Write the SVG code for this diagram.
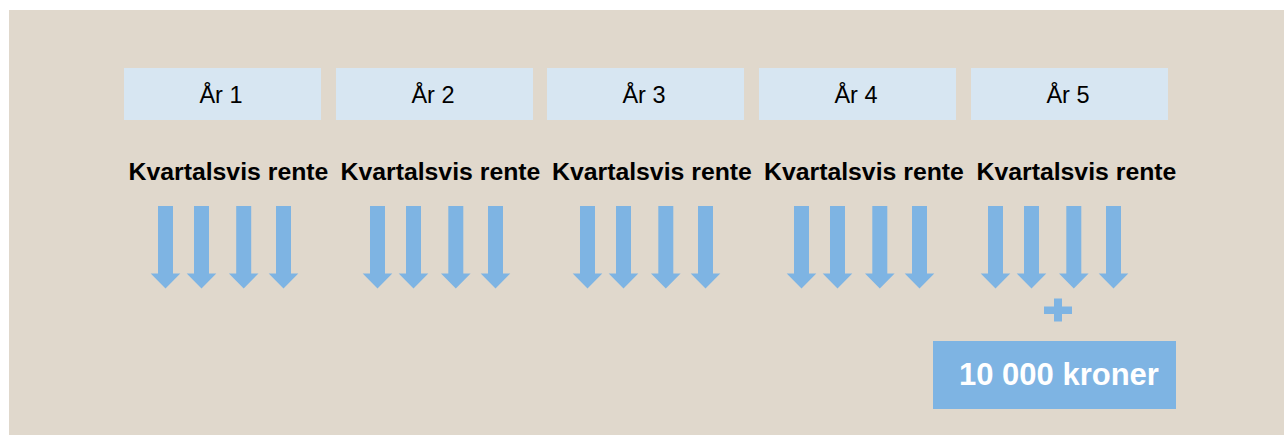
<svg xmlns="http://www.w3.org/2000/svg" xmlns:xlink="http://www.w3.org/1999/xlink" width="1284" height="435" viewBox="0 0 1284 435">
  <style>
    .bg { fill: #e0d8cc; }
    .year { fill: #d7e6f2; }
    .year-t { font-family: "Liberation Sans", Arial, sans-serif; font-size: 23.5px; fill: #000; text-anchor: middle; }
    .rate-t { font-family: "Liberation Sans", Arial, sans-serif; font-size: 24.8px; font-weight: bold; fill: #000; }
    .arrow { fill: #7eb4e3; }
    .sum { fill: #7eb4e3; }
    .sum-t { font-family: "Liberation Sans", Arial, sans-serif; font-size: 31px; font-weight: bold; fill: #fff; }
  </style>
  <defs>
    <path id="arr" class="arrow" d="M-7.5,206 H7.5 V273.5 H14.8 L0,288.5 L-14.8,273.5 H-7.5 Z"/>
  </defs>
  <rect class="bg" x="9" y="10" width="1275" height="425"/>

  <g id="year1"><rect class="year" x="124" y="68" width="197" height="52"/><text class="year-t" x="221" y="103">År 1</text></g>
  <g id="year2"><rect class="year" x="336" y="68" width="197" height="52"/><text class="year-t" x="433" y="103">År 2</text></g>
  <g id="year3"><rect class="year" x="547" y="68" width="197" height="52"/><text class="year-t" x="644" y="103">År 3</text></g>
  <g id="year4"><rect class="year" x="759" y="68" width="197" height="52"/><text class="year-t" x="856" y="103">År 4</text></g>
  <g id="year5"><rect class="year" x="971" y="68" width="197" height="52"/><text class="year-t" x="1068" y="103">År 5</text></g>

  <g id="rate1"><text class="rate-t" x="128.5" y="179.5">Kvartalsvis rente</text></g>
  <g id="rate2"><text class="rate-t" x="340.5" y="179.5">Kvartalsvis rente</text></g>
  <g id="rate3"><text class="rate-t" x="552" y="179.5">Kvartalsvis rente</text></g>
  <g id="rate4"><text class="rate-t" x="764" y="179.5">Kvartalsvis rente</text></g>
  <g id="rate5"><text class="rate-t" x="976.5" y="179.5">Kvartalsvis rente</text></g>

  <g id="connectors">
    <use xlink:href="#arr" href="#arr" x="165.5"/>
    <use xlink:href="#arr" href="#arr" x="201.5"/>
    <use xlink:href="#arr" href="#arr" x="243.7"/>
    <use xlink:href="#arr" href="#arr" x="283.5"/>
    <use xlink:href="#arr" href="#arr" x="377.5"/>
    <use xlink:href="#arr" href="#arr" x="413.5"/>
    <use xlink:href="#arr" href="#arr" x="455.8"/>
    <use xlink:href="#arr" href="#arr" x="495.5"/>
    <use xlink:href="#arr" href="#arr" x="587.5"/>
    <use xlink:href="#arr" href="#arr" x="623.5"/>
    <use xlink:href="#arr" href="#arr" x="665.8"/>
    <use xlink:href="#arr" href="#arr" x="705.5"/>
    <use xlink:href="#arr" href="#arr" x="801.5"/>
    <use xlink:href="#arr" href="#arr" x="837.5"/>
    <use xlink:href="#arr" href="#arr" x="879.8"/>
    <use xlink:href="#arr" href="#arr" x="919.5"/>
    <use xlink:href="#arr" href="#arr" x="995.5"/>
    <use xlink:href="#arr" href="#arr" x="1031.5"/>
    <use xlink:href="#arr" href="#arr" x="1073.8"/>
    <use xlink:href="#arr" href="#arr" x="1113.5"/>
  </g>

  <g id="plus">
    <rect class="sum" x="1044" y="306.5" width="28" height="7.5"/>
    <rect class="sum" x="1054" y="298.5" width="8" height="23"/>
  </g>

  <g id="sum">
    <rect class="sum" x="933" y="341" width="243" height="68"/>
    <text class="sum-t" x="959" y="385">10 000 kroner</text>
  </g>
</svg>
